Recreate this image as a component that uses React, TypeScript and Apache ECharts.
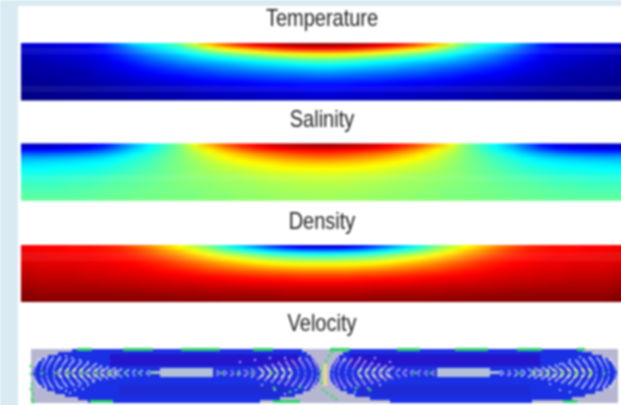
import React, { useEffect, useRef } from "react";
import * as echarts from "echarts";

const titles = ["Temperature", "Salinity", "Density", "Velocity"];
const titleY = [18, 119, 221, 323];

const jet = ["#00007f", "#0000ff", "#007fff", "#00ffff", "#7fff7f", "#ffff00", "#ff7f00", "#ff0000", "#7f0000"];

const temperature = [
  [8,8,9,10,12,16,24,33,37,41,47,58,69,77,84,89,92,95,96,97,97,96,95,92,89,84,77,69,58,47,41,37,33,24,16,12,10,9,8,8],
  [7,8,9,10,11,14,19,25,31,35,40,47,56,63,68,73,78,82,85,86,86,85,82,78,73,68,63,56,47,40,35,31,25,19,14,11,10,9,8,7],
  [6,7,8,9,10,13,17,22,27,31,35,40,45,50,54,58,62,65,67,68,68,67,65,62,58,54,50,45,40,35,31,27,22,17,13,10,9,8,7,6],
  [5,6,7,8,9,11,15,19,23,27,30,34,37,40,43,46,49,51,53,54,54,53,51,49,46,43,40,37,34,30,27,23,19,15,11,9,8,7,6,5],
  [4,5,6,7,8,10,13,16,20,23,26,29,31,33,35,37,39,41,43,44,44,43,41,39,37,35,33,31,29,26,23,20,16,13,10,8,7,6,5,4],
  [4,4,5,6,7,9,11,14,17,19,22,24,26,28,30,32,33,35,36,37,37,36,35,33,32,30,28,26,24,22,19,17,14,11,9,7,6,5,4,4],
  [3,4,4,5,6,8,10,12,14,16,18,20,22,24,25,27,28,29,30,31,31,30,29,28,27,25,24,22,20,18,16,14,12,10,8,6,5,4,4,3],
  [3,3,4,4,5,7,8,10,12,14,15,17,18,20,21,22,23,24,25,26,26,25,24,23,22,21,20,18,17,15,14,12,10,8,7,5,4,4,3,3],
  [2,3,3,4,5,6,7,9,10,11,12,14,15,16,17,18,19,20,20,21,21,20,20,19,18,17,16,15,14,12,11,10,9,7,6,5,4,3,3,2],
  [2,2,3,3,4,5,6,7,8,9,10,11,12,13,13,14,15,15,16,16,16,16,15,15,14,13,13,12,11,10,9,8,7,6,5,4,3,3,2,2],
  [2,2,2,3,3,4,5,6,7,7,8,9,10,10,11,11,12,12,13,13,13,13,12,12,11,11,10,10,9,8,7,7,6,5,4,3,3,2,2,2],
  [1,2,2,2,3,3,4,5,5,6,6,7,8,8,9,9,10,10,10,11,11,10,10,10,9,9,8,8,7,6,6,5,5,4,3,3,2,2,2,1],
  [1,1,2,2,2,3,3,4,4,5,5,6,6,7,7,7,8,8,8,9,9,8,8,8,7,7,7,6,6,5,5,4,4,3,3,2,2,2,1,1],
  [0,1,1,1,2,2,3,3,3,4,4,5,5,5,6,6,6,6,7,7,7,7,6,6,6,6,5,5,5,4,4,3,3,3,2,2,1,1,1,0],
];

const salinity = [
  [6,6,7,8,10,14,22,30,37,43,50,61,70,78,84,88,92,94,96,97,97,96,94,92,88,84,78,70,61,50,43,37,30,22,14,10,8,7,6,6],
  [12,12,13,14,16,20,26,33,38,44,50,57,64,71,77,82,85,87,88,89,89,88,87,85,82,77,71,64,57,50,44,38,33,26,20,16,14,13,12,12],
  [21,21,22,23,25,28,32,37,41,45,50,55,60,65,70,74,77,79,81,82,82,81,79,77,74,70,65,60,55,50,45,41,37,32,28,25,23,22,21,21],
  [29,29,30,31,32,34,37,40,43,47,50,54,58,62,65,68,71,73,75,76,76,75,73,71,68,65,62,58,54,50,47,43,40,37,34,32,31,30,29,29],
  [33,34,34,35,36,37,39,42,44,47,50,53,56,59,62,64,66,68,69,70,70,69,68,66,64,62,59,56,53,50,47,44,42,39,37,36,35,34,34,33],
  [36,36,37,37,38,39,41,43,45,48,50,52,55,57,59,61,62,64,65,65,65,65,64,62,61,59,57,55,52,50,48,45,43,41,39,38,37,37,36,36],
  [38,38,39,39,40,41,42,44,46,48,50,52,54,56,57,58,60,61,61,62,62,61,61,60,58,57,56,54,52,50,48,46,44,42,41,40,39,39,38,38],
  [40,40,40,41,41,42,44,45,47,48,50,52,53,54,55,57,58,58,59,59,59,59,58,58,57,55,54,53,52,50,48,47,45,44,42,41,41,40,40,40],
  [41,41,42,42,43,44,45,46,47,49,50,51,52,53,54,55,56,57,57,58,58,57,57,56,55,54,53,52,51,50,49,47,46,45,44,43,42,42,41,41],
  [43,43,43,44,44,45,46,47,48,49,50,51,52,53,53,54,55,55,56,56,56,56,55,55,54,53,53,52,51,50,49,48,47,46,45,44,44,43,43,43],
  [44,44,44,45,45,46,47,47,48,49,50,51,51,52,53,53,54,54,55,55,55,55,54,54,53,53,52,51,51,50,49,48,47,47,46,45,45,44,44,44],
  [45,45,45,46,46,47,47,48,49,49,50,50,51,52,52,53,53,54,54,54,54,54,54,53,53,52,52,51,50,50,49,49,48,47,47,46,46,45,45,45],
  [46,46,46,46,47,47,48,48,49,49,50,50,51,51,52,52,53,53,53,54,54,53,53,53,52,52,51,51,50,50,49,49,48,48,47,47,46,46,46,46],
  [47,47,47,47,47,48,48,49,49,50,50,50,51,51,52,52,52,53,53,53,53,53,53,52,52,52,51,51,50,50,50,49,49,48,48,47,47,47,47,47],
];

const density = [
  [88,87,87,86,86,85,83,79,74,68,62,56,49,41,34,27,20,14,10,8,8,10,14,20,27,34,41,49,56,62,68,74,79,83,85,86,86,87,87,88],
  [89,88,88,87,87,86,85,82,78,73,68,62,56,49,44,39,34,30,28,27,27,28,30,34,39,44,49,56,62,68,73,78,82,85,86,87,87,88,88,89],
  [90,89,89,88,88,87,86,84,81,77,73,68,63,58,54,50,46,44,42,41,41,42,44,46,50,54,58,63,68,73,77,81,84,86,87,88,88,89,89,90],
  [90,90,89,89,89,88,87,86,84,81,77,73,69,65,62,58,55,53,52,51,51,52,53,55,58,62,65,69,73,77,81,84,86,87,88,89,89,89,90,90],
  [91,90,90,90,89,89,88,87,85,83,80,77,74,71,68,65,63,61,60,60,60,60,61,63,65,68,71,74,77,80,83,85,87,88,89,89,90,90,90,91],
  [92,91,91,91,90,90,89,88,87,85,83,81,78,76,74,72,70,69,68,68,68,68,69,70,72,74,76,78,81,83,85,87,88,89,90,90,91,91,91,92],
  [93,92,92,92,91,91,90,90,89,87,86,84,82,81,79,78,77,76,75,75,75,75,76,77,78,79,81,82,84,86,87,89,90,90,91,91,92,92,92,93],
  [94,93,93,93,92,92,91,91,90,89,88,87,86,85,84,83,82,82,81,81,81,81,82,82,83,84,85,86,87,88,89,90,91,91,92,92,93,93,93,94],
  [95,94,94,94,93,93,93,92,92,91,90,90,89,88,87,87,86,86,85,85,85,85,86,86,87,87,88,89,90,90,91,92,92,93,93,93,94,94,94,95],
  [96,95,95,95,95,94,94,94,93,93,92,92,91,91,90,90,90,89,89,89,89,89,89,90,90,90,91,91,92,92,93,93,94,94,94,95,95,95,95,96],
  [97,96,96,96,96,96,95,95,95,94,94,94,93,93,93,92,92,92,92,92,92,92,92,92,92,93,93,93,94,94,94,95,95,95,96,96,96,96,96,97],
  [98,97,97,97,97,97,97,97,96,96,96,96,95,95,95,95,95,94,94,94,94,94,94,95,95,95,95,95,96,96,96,96,97,97,97,97,97,97,97,98],
  [99,98,98,98,98,98,98,98,98,98,97,97,97,97,97,97,97,96,96,96,96,96,96,97,97,97,97,97,97,97,98,98,98,98,98,98,98,98,98,99],
  [100,99,99,99,99,99,99,99,99,99,99,99,99,98,98,98,98,98,98,98,98,98,98,98,98,98,98,99,99,99,99,99,99,99,99,99,99,99,99,100],
];

const velocityColors = ["#b6b6d2", "#1a30e4", "#2416cc", "#1e2ad4", "#2fd06c", "#b4c0d8"];
const lobeTop = [349, 352, 355, 358, 361, 364, 367, 370, 373, 376, 379, 382, 385, 388, 391, 394, 397, 400];
const leftStart = [72, 58, 48, 42, 38, 36, 34, 33, 33, 34, 36, 38, 42, 47, 55, 65, 78, 88];
const leftEnd = [302, 307, 311, 314, 316, 318, 319, 320, 320, 320, 319, 317, 314, 310, 303, 295, 280, 260];
const rightStart = [348, 343, 339, 336, 334, 332, 331, 330, 330, 330, 331, 333, 336, 340, 347, 355, 370, 390];
const rightEnd = [582, 592, 602, 608, 612, 614, 616, 617, 617, 616, 614, 612, 608, 603, 595, 585, 572, 532];
const shadeBands = [
  [110, 300, 354, 366, 2], [350, 540, 354, 366, 2],
  [120, 290, 385, 396, 3], [360, 530, 385, 396, 3],
  [160, 213, 368, 377, 5], [437, 490, 368, 377, 5], [150, 168, 371, 374, 5], [482, 500, 371, 374, 5],
];
const greenBars = [
  [77, 92, 348, 351], [123, 153, 348, 351], [181, 220, 348, 351], [253, 273, 348, 351], [330, 350, 348, 351],
  [397, 420, 348, 351], [455, 488, 348, 351], [517, 542, 348, 351], [577, 585, 348, 351],
  [90, 113, 400, 403], [273, 300, 400, 403], [563, 577, 400, 403],
];

const edgeArcsLeft = [[37,373,5,29],[44,373,6,30],[50,373,7,31],[57,373,7,31],[64,373,7,28],[71,373,7,26],[78,373,7,22],[85,373,7,20],[92,373,6,16],[99,373,6,14],[106,373,5,12],[113,373,5,10],[120,373,4,8],[127,373,4,6],[134,373,3,6],[141,373,3,5],[148,373,3,4]];
const edgeArcsRight = [[613,373,5,29],[606,373,6,30],[600,373,7,31],[593,373,7,31],[586,373,7,28],[579,373,7,26],[572,373,7,22],[565,373,7,20],[558,373,6,16],[551,373,6,14],[544,373,5,12],[537,373,5,10],[530,373,4,8],[523,373,4,6],[516,373,3,6],[509,373,3,5],[502,373,3,4]];
const neckArcsLeft = [[218,373,3,4],[225,373,3,4],[232,373,3,5],[239,373,3,5],[246,373,4,6],[253,373,4,8],[260,373,5,12],[267,373,5,15],[274,373,6,18],[281,373,6,21],[288,373,6,24],[295,373,7,26],[302,373,7,28],[309,373,7,30],[315,373,6,28]];
const neckArcsRight = [[336,373,6,28],[342,373,7,30],[349,373,7,28],[356,373,7,26],[363,373,6,24],[370,373,6,21],[377,373,6,18],[384,373,5,15],[391,373,5,12],[398,373,4,8],[405,373,4,6],[412,373,3,5],[419,373,3,5],[426,373,3,4],[433,373,3,4]];
const coreLeft = [[60,373,4,9],[67,373,4,9],[74,373,4,9],[81,373,4,9],[88,373,4,8],[95,373,4,8],[102,373,3,7],[109,373,3,6],[116,373,3,5]];
const coreRight = [[590,373,4,9],[583,373,4,9],[576,373,4,9],[569,373,4,9],[562,373,4,8],[555,373,4,8],[548,373,3,7],[541,373,3,6],[534,373,3,5]];
const coreNeckLeft = [[262,373,4,8],[269,373,4,9],[276,373,4,9],[283,373,4,9],[290,373,4,9]];
const coreNeckRight = [[360,373,4,9],[367,373,4,9],[374,373,4,9],[381,373,4,9],[388,373,4,8]];
const greenDots = [
  [28,355],[30,358],[27,362],[31,366],[29,370],[31,374],[30,379],[32,384],[31,389],[33,394],[32,399],[33,402],
  [42,373],[55,373],[69,373],[83,373],[97,373],[111,373],[125,373],[139,373],[152,373],[222,373],[238,373],[252,373],[272,373],
  [332,352],[329,356],[326,361],[323,366],[321,371],[320,377],[322,383],[323,390],[327,393],[332,396],[336,399],[340,350],[345,350],
  [415,373],[431,373],[520,373],[534,373],[548,373],[562,373],[576,373],[590,373],[604,373],[274,388],[290,392],[300,387],[370,390],[356,388],
];
const paleDots = [
  [62,388],[66,391],[70,393],[75,390],[79,386],[83,389],[88,385],[93,382],[60,358],[66,356],[72,358],[80,360],[88,362],[96,364],
  [240,362],[255,360],[270,358],[285,358],[300,358],[262,385],[275,390],[285,394],[296,390],[305,388],
  [345,360],[360,358],[375,358],[390,362],[345,388],[355,392],[368,388],[380,385],[560,364],[570,360],[580,357],[590,358],[550,384],[560,390],[570,392],[582,388],
];
const neckCore = [[325,366],[325,369],[325,372],[325,375],[325,378],[325,381],[325,384]];

const ARC = "path://M10,0 Q0,10 10,20";
const STRIPS = 4;

const fieldSeries = (rows: number[][], idx: number) => ({
  type: "custom",
  xAxisIndex: idx,
  yAxisIndex: idx,
  silent: true,
  clip: true,
  encode: { y: 0 },
  data: rows.map((row, r) => [r, ...row]),
  renderItem: (params: any, api: any) => {
    const r = params.dataIndex;
    const nCols = rows[0].length;
    const left = api.coord([0, 0])[0];
    const right = api.coord([nCols, 0])[0];
    const children = [];
    for (let s = 0; s < STRIPS; s++) {
      const t = (s + 0.5) / STRIPS - 0.5;
      const near = rows[r];
      const other = rows[Math.min(rows.length - 1, Math.max(0, t < 0 ? r - 1 : r + 1))];
      const w = Math.abs(t);
      const y0 = api.coord([0, r + s / STRIPS])[1];
      const y1 = api.coord([0, r + (s + 1) / STRIPS])[1];
      const stops = near.map((v, c) => ({
        offset: (c + 0.5) / nCols,
        color: echarts.color.lerp((v * (1 - w) + other[c] * w) / 100, jet),
      }));
      children.push({
        type: "rect",
        shape: { x: left, y: y0, width: right - left, height: y1 - y0 + 0.6 },
        style: { fill: new echarts.graphic.LinearGradient(0, 0, 1, 0, stops) },
      });
    }
    return { type: "group", children };
  },
});

const arcSeries = (data: number[][], color: string, rotate: number, dashed: boolean, width = 1.6) => ({
  type: "scatter",
  xAxisIndex: 3,
  yAxisIndex: 3,
  symbol: ARC,
  symbolRotate: rotate,
  symbolSize: (v: number[]) => [v[2], v[3]],
  data,
  silent: true,
  itemStyle: {
    color: "transparent",
    opacity: 1,
    borderColor: color,
    borderWidth: width,
    borderType: dashed ? [2, 1] : "solid",
  },
});

const dotSeries = (data: number[][], color: string, size: number) => ({
  type: "scatter",
  xAxisIndex: 3,
  yAxisIndex: 3,
  symbol: "rect",
  symbolSize: size,
  data,
  silent: true,
  itemStyle: { color, opacity: 1 },
});

const blockData = () => {
  const out: number[][] = [[31, 618, 349, 403, 0]];
  lobeTop.forEach((y, i) => {
    out.push([leftStart[i], leftEnd[i], y, y + 3, 1]);
    out.push([rightStart[i], rightEnd[i], y, y + 3, 1]);
  });
  shadeBands.forEach((b) => out.push(b));
  greenBars.forEach((b) => out.push([...b, 4]));
  return out;
};

const panelGrids = [
  { left: 21, top: 43, width: 604, height: 57.5 },
  { left: 21, top: 143.3, width: 604, height: 57.5 },
  { left: 21, top: 245, width: 604, height: 57 },
  { left: 31, top: 349, width: 587, height: 54 },
];

const fieldX = (gridIndex: number) => ({ type: "value", gridIndex, min: 0, max: 40, show: false });
const fieldY = (gridIndex: number) => ({ type: "value", gridIndex, min: 0, max: 14, inverse: true, show: false });

export default function App() {
  const ref = useRef<HTMLDivElement>(null);
  useEffect(() => {
    const chart = echarts.init(ref.current!, undefined, { renderer: "svg" });
    chart.setOption({
      animation: false,
      backgroundColor: "#d9eaf2",
      graphic: [
        { type: "rect", z: -1, silent: true, shape: { x: 18, y: 6, width: 630, height: 420 }, style: { fill: "#ffffff" } },
        ...titles.map((t, i) => ({
          type: "text",
          silent: true,
          x: 322,
          y: titleY[i],
          scaleY: 1.2,
          style: {
            text: t,
            fill: "#222222",
            fontFamily: "Liberation Sans",
            fontSize: 20,
            fontWeight: "normal",
            textAlign: "center",
            textVerticalAlign: "middle",
          },
        })),
      ],
      grid: panelGrids.map((g) => ({ ...g, containLabel: false, show: false })),
      xAxis: [fieldX(0), fieldX(1), fieldX(2), { type: "value", gridIndex: 3, min: 31, max: 618, show: false }],
      yAxis: [fieldY(0), fieldY(1), fieldY(2), { type: "value", gridIndex: 3, min: 349, max: 403, inverse: true, show: false }],
      series: [
        fieldSeries(temperature, 0),
        fieldSeries(salinity, 1),
        fieldSeries(density, 2),
        {
          type: "custom",
          xAxisIndex: 3,
          yAxisIndex: 3,
          silent: true,
          clip: false,
          data: blockData(),
          encode: { x: [0, 1], y: [2, 3] },
          renderItem: (_: any, api: any) => {
            const a = api.coord([api.value(0), api.value(2)]);
            const b = api.coord([api.value(1), api.value(3)]);
            return {
              type: "rect",
              shape: { x: a[0], y: a[1], width: b[0] - a[0], height: b[1] - a[1] },
              style: { fill: velocityColors[api.value(4)] },
            };
          },
        },
        arcSeries(edgeArcsLeft, "#dfe6ff", 0, true),
        arcSeries(edgeArcsRight, "#dfe6ff", 180, true),
        arcSeries(neckArcsLeft, "#eab4ec", 180, true),
        arcSeries(neckArcsRight, "#eab4ec", 0, true),
        arcSeries(coreLeft, "#f2f2b0", 0, false),
        arcSeries(coreRight, "#f2f2b0", 180, false),
        arcSeries(coreNeckLeft, "#f2e8c0", 180, false),
        arcSeries(coreNeckRight, "#f2e8c0", 0, false),
        dotSeries(paleDots, "#c8c8f0", 1.8),
        dotSeries(greenDots, "#3cdc60", 2.6),
        dotSeries(neckCore, "#e8d890", 4),
      ],
    });
    return () => chart.dispose();
  }, []);
  return (
    <div style={{ position: "fixed", left: 0, top: 0, width: 621, height: 405, overflow: "hidden" }}>
      <div ref={ref} style={{ width: 640, height: 425, filter: "blur(0.8px)" }} />
    </div>
  );
}
